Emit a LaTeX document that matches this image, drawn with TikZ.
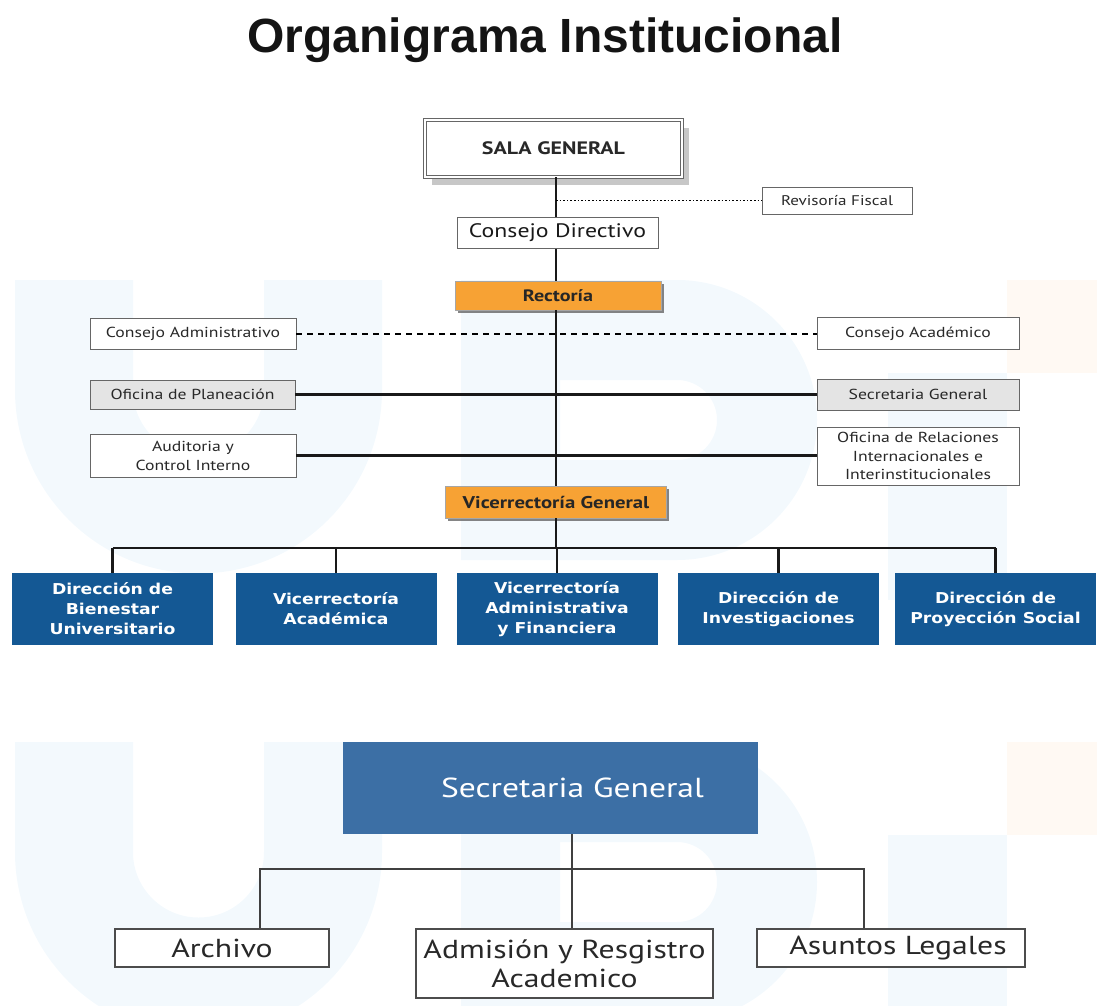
\documentclass[tikz,border=0pt]{standalone}
\usepackage{fontspec}
\setmainfont{PT Sans}[FakeStretch=1.22]
\newfontfamily\titlefont{Liberation Sans}
\newfontfamily\unitfont{DejaVu Sans}[FakeStretch=1.15]
\usetikzlibrary{shadows}

\definecolor{rectorange}{RGB}{247,162,52}
\definecolor{unitblue}{RGB}{20,88,148}
\definecolor{secblue}{RGB}{60,111,165}
\definecolor{boxgray}{RGB}{228,228,228}
\definecolor{wmblue}{RGB}{243,249,253}
\definecolor{wmorange}{RGB}{255,249,243}
\definecolor{inkgray}{RGB}{40,40,40}

\tikzset{
  plainbox/.style={draw=black!60, line width=0.9pt, fill=white, inner sep=0pt, align=center,
    text=inkgray, font=\fontsize{14.5}{19}\selectfont},
  graybox/.style={plainbox, fill=boxgray},
  orangebox/.style={draw=black!35, fill=rectorange, inner sep=0pt, text=black!85,
    font=\bfseries\fontsize{16.5}{20}\selectfont,
    drop shadow={shadow xshift=2.5pt, shadow yshift=-2.5pt, fill=black!60, opacity=0.8}},
  unitbox/.style={fill=unitblue, text=white, inner sep=0pt, align=center,
    minimum width=201pt, minimum height=72pt, font=\unitfont\bfseries\fontsize{15}{20}\selectfont},
  subbox/.style={plainbox, line width=1.1pt, draw=black!70, font=\fontsize{26}{29}\selectfont},
  link/.style={line width=2.3pt, draw=black!90},
  sublink/.style={line width=1.5pt, draw=black!75}
}

\newcommand{\watermark}[1]{%
  \draw[wmblue, line width=118pt] (74,#1) -- (74,#1+110) arc[start angle=180, end angle=0, radius=124.5] -- (323,#1);
  \fill[wmblue, even odd rule] (461,#1) -- (677,#1) arc[start angle=270, end angle=450, radius=140] -- (461,#1+280) -- cycle
    (560,#1+100) -- (677,#1+100) arc[start angle=270, end angle=450, radius=40] -- (560,#1+180) -- cycle;
  \fill[wmblue] (888,#1+93) rectangle (1007,#1+320);
  \fill[wmorange] (1007,#1) rectangle (1097,#1+93);
}

\begin{document}
\begin{tikzpicture}[x=1pt, y=-1pt]
  \useasboundingbox (0,0) rectangle (1097,1006);
  \watermark{280}
  \watermark{742}

  \node[text=black!92, font=\titlefont\bfseries\fontsize{48}{50}\selectfont] (title) at (545,40) {Organigrama Institucional};

  \node[plainbox, draw=black!60, double=white, double distance=2.5pt, line width=0.8pt,
    minimum width=257pt, minimum height=57pt, font=\bfseries\fontsize{18}{20}\selectfont,
    drop shadow={shadow xshift=7pt, shadow yshift=-8pt, fill=black!22, opacity=1}] (sala) at (553.5,148.5) {SALA GENERAL};
  \node[plainbox, minimum width=150pt, minimum height=27pt, font=\fontsize{14}{16}\selectfont] (revisoria) at (837,200.5) {Revisoría Fiscal};
  \node[plainbox, minimum width=201pt, minimum height=31pt, text=black!90, font=\fontsize{19.5}{22}\selectfont] (directivo) at (557.5,233) {Consejo Directivo};
  \node[orangebox, minimum width=206pt, minimum height=29pt] (rectoria) at (558,295.5) {Rectoría};

  \node[plainbox, minimum width=206pt, minimum height=31pt] (consadm) at (193,333.5) {Consejo Administrativo};
  \node[plainbox, minimum width=202pt, minimum height=32pt] (consacad) at (918,333.5) {Consejo Académico};
  \node[graybox, minimum width=205pt, minimum height=29pt] (planeacion) at (192.5,394.5) {Oficina de Planeación};
  \node[graybox, minimum width=202pt, minimum height=31pt] (secretaria) at (918,394.5) {Secretaria General};
  \node[plainbox, minimum width=206pt, minimum height=43pt] (auditoria) at (193,455.5) {Auditoria y\\Control Interno};
  \node[plainbox, minimum width=202pt, minimum height=58pt, font=\fontsize{14.5}{18.5}\selectfont] (relaciones) at (918,456) {Oficina de Relaciones\\Internacionales e\\Interinstitucionales};

  \node[orangebox, minimum width=221pt, minimum height=32pt, font=\bfseries\fontsize{17}{20}\selectfont] (vicegeneral) at (556,502) {Vicerrectoría General};
  \coordinate (bus) at (556,548);

  \draw[link] (sala.south -| vicegeneral) -- (directivo.north -| vicegeneral);
  \draw[link] (directivo.south -| vicegeneral) -- (rectoria.north -| vicegeneral);
  \draw[link] (rectoria.south -| vicegeneral) -- (vicegeneral.north);
  \draw[link] (vicegeneral.south) -- (bus);
  \draw[dotted, line width=1.6pt] (revisoria.west -| vicegeneral) -- (revisoria.west);
  \draw[line width=2pt, dash pattern=on 6pt off 5pt] (consadm.east) -- (consacad.west);
  \draw[link] (planeacion.east) -- (planeacion.east -| secretaria.west);
  \draw[link] (auditoria.east) -- (auditoria.east -| relaciones.west);

  \foreach \name/\x/\txt in {bienestar/112.5/Dirección de\\Bienestar\\Universitario,
                              academica/336/Vicerrectoría\\Académica,
                              financiera/557/Vicerrectoría\\Administrativa\\y Financiera,
                              investigacion/778.5/Dirección de\\Investigaciones,
                              proyeccion/995.5/Dirección de\\Proyección Social} {
    \node[unitbox] (\name) at (\x,609) {\txt};
    \draw[link] (bus -| \name.north) -- (\name.north);
  }
  \draw[link] (bus -| bienestar.north) -- (bus -| proyeccion.north);

  \node[fill=secblue, text=white, inner sep=0pt, minimum width=415pt, minimum height=92pt,
    font=\fontsize{27.5}{30}\selectfont] (secbig) at (550.5,788) {\hspace*{44pt}Secretaria General};
  \node[subbox, minimum width=214pt, minimum height=38pt] (archivo) at (222,948) {Archivo};
  \node[subbox, minimum width=297pt, minimum height=69pt] (admision) at (564.5,963.5) {Admisión y Resgistro\\Academico};
  \node[subbox, minimum width=268pt, minimum height=38pt] (asuntos) at (891,948) {\hspace*{14pt}Asuntos Legales};
  \coordinate (subbus) at (572,869);

  \draw[sublink] (secbig.south -| subbus) -- (admision.north -| subbus);
  \draw[sublink] ([xshift=38pt]archivo.north) |- (subbus) -| ([xshift=-27pt]asuntos.north);
\end{tikzpicture}
\end{document}
